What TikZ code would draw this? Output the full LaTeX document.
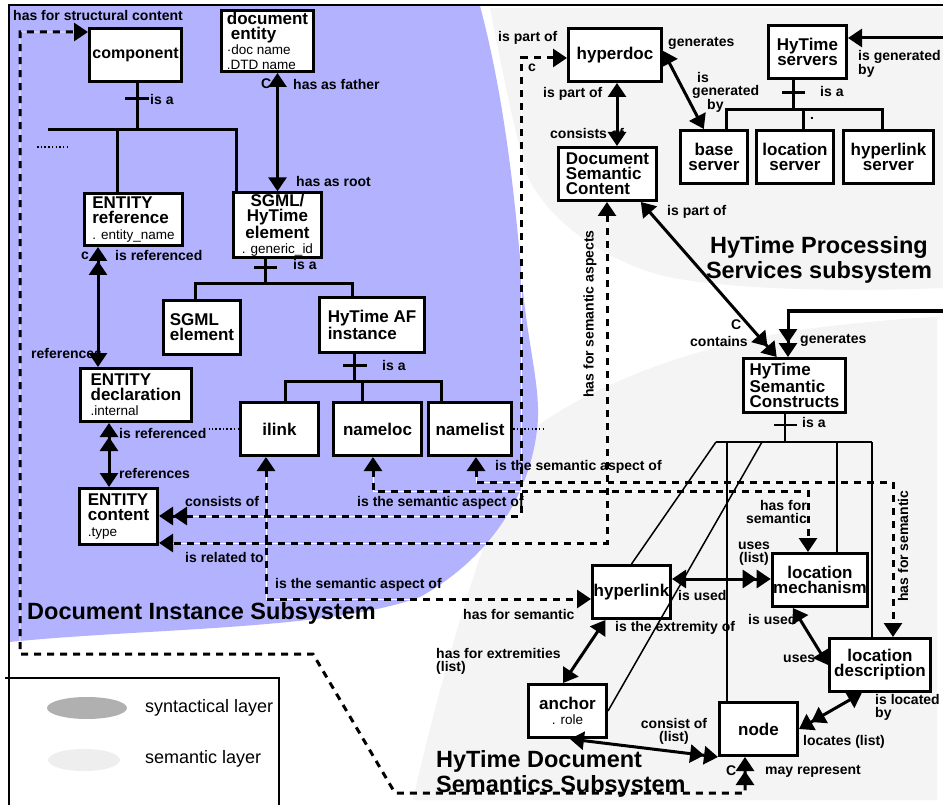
\documentclass[tikz,border=0pt]{standalone}
\usepackage{fontspec}
\setmainfont{Liberation Sans}
\usetikzlibrary{arrows.meta}

\definecolor{synblue}{RGB}{178,178,255}
\definecolor{semgray}{RGB}{244,244,244}
\definecolor{leggray}{RGB}{176,176,176}
\definecolor{legsem}{RGB}{238,238,238}

\newcommand{\bxf}{\fontsize{17}{15.2}\selectfont\bfseries}
\newcommand{\atf}{\fontsize{13.5}{14}\selectfont\mdseries}
\newcommand{\lbf}{\fontsize{14}{13}\selectfont\bfseries}
\newcommand{\bigf}{\fontsize{23.5}{25}\selectfont\bfseries}
\newcommand{\legf}{\fontsize{18}{18}\selectfont}

\begin{document}
\begin{tikzpicture}[x=1pt,y=-1pt,
  >={Triangle[length=14pt,width=18pt]},
  box/.style 2 args={draw,line width=3pt,fill=white,inner sep=1pt,font=\bxf,
    align=center,minimum width=#1pt,minimum height=#2pt},
  lbl/.style={font=\lbf,inner sep=0pt,anchor=west},
  conn/.style={line width=3pt},
  semline/.style={line width=3pt,dash pattern=on 7pt off 6pt,
    preaction={draw=white,line width=0.8pt,solid,-}},
  treeline/.style={line width=3pt},
  thintree/.style={line width=1.5pt},
  dotline/.style={line width=1.5pt,dash pattern=on 1.5pt off 2.2pt},
]
\useasboundingbox (0,0) rectangle (943,805);
\fill[white] (0,0) rectangle (943,805);

% layer regions
\fill[semgray] (490,8) -- (943,8) -- (943,288)
  .. controls (850,292) and (720,290) .. (660,275)
  .. controls (590,255) and (540,210) .. (525,170)
  .. controls (510,110) and (498,50) .. cycle;
\fill[semgray] (528,432) .. controls (600,380) and (700,345) .. (800,330)
  .. controls (860,322) and (910,318) .. (937,317)
  -- (937,800) -- (413,800) .. controls (440,680) and (480,540) .. cycle;
\fill[synblue] (9,6) -- (480,6) .. controls (505,100) and (515,200) .. (522,280)
  .. controls (528,350) and (542,390) .. (537,430)
  .. controls (530,490) and (495,555) .. (420,597)
  .. controls (330,630) and (150,628) .. (9,642) -- cycle;

% frame and legend
\draw[line width=1.5pt] (9,805) -- (9,5) -- (943,5);
\draw[line width=2pt] (5,678) -- (279,678) -- (279,805);
\fill[leggray] (87,708) ellipse [x radius=40, y radius=11];
\fill[legsem] (84,760) ellipse [x radius=36, y radius=11];
\node[font=\legf,anchor=west,inner sep=0] (legsyn) at (145,708) {syntactical layer};
\node[font=\legf,anchor=west,inner sep=0] (legsemt) at (145,759) {semantic layer};

% boxes
\node[box={92}{53}] (comp) at (135.5,55) {\fontsize{16}{14}\selectfont component};
\node[box={92}{61},align=left] (docent) at (267.5,41)
  {document\\\hspace*{4pt}entity\\{\atf \textperiodcentered doc name}\\{\atf .DTD name}};
\node[box={98}{52},align=left] (entref) at (133.5,219.5)
  {ENTITY\\reference\\{\atf . entity\_name}};
\node[box={88}{61}] (sgmlhy) at (277.5,225)
  {SGML/\\HyTime\\element\\{\atf . generic\_id}};
\node[box={77}{54},align=left] (sgmlel) at (202,327.5) {SGML\\element};
\node[box={105}{55},align=left] (hyaf) at (372,325) {HyTime AF\\instance};
\node[box={78}{53}] (ilink) at (279.5,429) {ilink};
\node[box={88}{53}] (nameloc) at (377.5,429) {nameloc};
\node[box={83}{53}] (namelist) at (470,429) {namelist};
\node[box={111}{53},align=left] (entdecl) at (136,395)
  {ENTITY\\declaration\\{\atf .internal}};
\node[box={78}{56},align=left] (entcont) at (118.5,516.5)
  {ENTITY\\content\\{\atf .type}};
\node[box={93}{53}] (hyperdoc) at (615,55) {hyperdoc};
\node[box={78}{53}] (hyserv) at (807.5,52) {HyTime\\servers};
\node[box={98}{53},align=left] (dsc) at (607.5,174) {Document\\Semantic\\Content};
\node[box={67}{53}] (base) at (714,157) {base\\server};
\node[box={77}{53}] (locserv) at (795,157) {location\\server};
\node[box={90}{53}] (hlserv) at (888.5,157) {hyperlink\\server};
\node[box={102}{54},align=left] (hsc) at (794.5,385.5) {HyTime\\Semantic\\Constructs};
\node[box={78}{53}] (hyperlink) at (631.5,592) {hyperlink};
\node[box={93}{53}] (locmech) at (820,580) {location\\mechanism};
\node[box={101}{53}] (locdesc) at (880,665) {location\\description};
\node[box={78}{53}] (anchor) at (567.5,711) {anchor\\{\atf . role}};
\node[box={78}{53}] (nd) at (758.5,729) {node};

% structural content path
\coordinate (sc1) at (20,32);
\coordinate (sc2) at (20,654);
\coordinate (sc3) at (313,654);
\coordinate (sc4) at (395,793);
\coordinate (sc5) at (745,793);
\draw[semline,<<->] (sc5 |- nd.south) -- (sc5) -- (sc4) -- (sc3) -- (sc2) -- (sc1) -- (sc1 -| comp.west);

% component specialisation
\coordinate (ct) at (137,130);
\coordinate (ctl) at (48,130);
\coordinate (ctr) at (236,130);
\coordinate (cta) at (117,130);
\draw[treeline] (comp.south -| ct) -- (ct);
\draw[treeline] (125,99) -- (149,99);
\draw[treeline] (ctl) -- (ctr) -- (ctr |- sgmlhy.north);
\draw[treeline] (cta) -- (cta |- entref.north);
\draw[dotline] (37,147) -- (68,147);

% document entity / root element
\draw[conn,<->] (docent.south -| sgmlhy.north) -- (sgmlhy.north);

% entity chain
\coordinate (x98) at (98,0);
\coordinate (x109) at (109,0);
\draw[conn,<<->] (entref.south -| x98) -- (entdecl.north -| x98);
\draw[conn,<<->] (entdecl.south -| x109) -- (entcont.north -| x109);
\draw[dotline] (ilink.west) -- ++(-30,0);
\draw[dotline] (namelist.east) -- ++(30,0);

% SGML/HyTime element specialisation
\coordinate (st) at (265,284);
\coordinate (stl) at (195,284);
\coordinate (str) at (352,284);
\draw[treeline] (st |- sgmlhy.south) -- (st);
\draw[treeline] (254,268) -- (277,268);
\draw[treeline] (stl |- sgmlel.north) -- (stl) -- (str) -- (str |- hyaf.north);

% HyTime AF instance specialisation
\coordinate (ht) at (354,381);
\coordinate (hta) at (285,381);
\coordinate (htb) at (362,381);
\coordinate (htc) at (441,381);
\draw[treeline] (ht |- hyaf.south) -- (ht);
\draw[treeline] (343,365) -- (367,365);
\draw[treeline] (hta |- ilink.north) -- (hta) -- (htc) -- (htc |- namelist.north);
\draw[treeline] (htb) -- (htb |- nameloc.north);

% semantic aspects
\coordinate (il1) at (266,599);
\draw[semline,<->] (il1 |- ilink.south) -- (il1) -- (il1 -| hyperlink.west);
\coordinate (nl1) at (373,491);
\coordinate (nl2) at (808,491);
\draw[semline,<->] (nl1 |- nameloc.south) -- (nl1) -- (nl2) -- (nl2 |- locmech.north);
\coordinate (ns1) at (476,482);
\coordinate (ns2) at (893,482);
\draw[semline,<->] (ns1 |- namelist.south) -- (ns1) -- (ns2) -- (ns2 |- locdesc.north);
\coordinate (hp1) at (521,58);
\coordinate (hp2) at (521,516);
\draw[semline,<->>] (hp1 -| hyperdoc.west) -- (hp1) -- (hp2) -- (hp2 -| entcont.east);
\coordinate (ds1) at (607,543);
\draw[semline,<->] (ds1 |- dsc.south) -- (ds1) -- (ds1 -| entcont.east);

% processing services
\coordinate (x617) at (617,0);
\draw[conn,<->] (hyperdoc.south -| x617) -- (dsc.north -| x617);
\draw[conn,<->] (hyperdoc.5) -- (base.110);
\coordinate (sv) at (793,110);
\coordinate (sva) at (726,110);
\coordinate (svb) at (803,110);
\coordinate (svc) at (882,110);
\draw[treeline] (sv |- hyserv.south) -- (sv);
\draw[treeline] (782,93) -- (805,93);
\draw[treeline] (sva |- base.north) -- (sva) -- (svc) -- (svc |- hlserv.north);
\draw[treeline] (svb) -- (svb |- locserv.north);
\coordinate (g1) at (946,38);
\coordinate (g2) at (946,311);
\coordinate (g3) at (788,311);
\draw[conn,<-] (g1 -| hyserv.east) -- (g1);
\draw[conn,->>] (g2) -- (g3) -- (g3 |- hsc.north);
\draw[conn,<->>] (dsc.-40) -- (hsc.122);

% semantic constructs specialisation
\coordinate (hc) at (785,442);
\coordinate (hca) at (716,442);
\coordinate (hcb) at (762,442);
\coordinate (hcc) at (727,442);
\coordinate (hcd) at (837,442);
\coordinate (hce) at (872,442);
\draw[thintree] (hc |- hsc.south) -- (hc);
\draw[thintree] (774,425) -- (797,425);
\draw[thintree] (hca) -- (hce);
\draw[thintree] (hca) -- (hyperlink.north);
\draw[thintree] (hcb) -- (anchor.east);
\draw[thintree] (hcc) -- (hcc |- nd.north);
\draw[thintree] (hcd) -- (hcd |- locmech.north);
\draw[thintree] (hce) -- (hce |- locdesc.north);

% document semantics relations
\coordinate (y579) at (0,579);
\draw[conn,<->>] (hyperlink.east |- y579) -- (locmech.west |- y579);
\draw[conn,<->] (hyperlink.-133) -- (anchor.99);
\draw[conn,<->] (locmech.-134) -- (locdesc.west);
\draw[conn,<->>] (locdesc.-123) -- (nd.east);
\draw[conn,<->>] (anchor.-85) -- (nd.south west);

% labels
\node[lbl] (l1) at (13,15) {has for structural content};
\node[lbl] (l2) at (150,99) {is a};
\node[lbl] (l3) at (261,84) {C};
\node[lbl] (l4) at (293,84) {has as father};
\node[lbl] (l5) at (296,181) {has as root};
\node[lbl] (l6) at (81,256) {c};
\node[lbl] (l7) at (115,255) {is referenced};
\node[lbl] (l8) at (31,353) {references};
\node[lbl] (l9) at (293,264) {is a};
\node[lbl] (l10) at (382,365) {is a};
\node[lbl] (l11) at (119,433) {is referenced};
\node[lbl] (l12) at (119,473) {references};
\node[lbl] (l13) at (185,501) {consists of};
\node[lbl] (l14) at (185,557) {is related to};
\node[lbl] (l15) at (275,585) {is the semantic aspect of};
\node[lbl] (l16) at (463,614) {has for semantic};
\node[lbl] (l17) at (357,503) {is the semantic aspect of};
\node[lbl] (l18) at (495,467) {is the semantic aspect of};
\node[lbl] (l19) at (498,38) {is part of};
\node[lbl] (l20) at (528,68) {c};
\node[lbl] (l21) at (543,94) {is part of};
\node[lbl] (l22) at (550,133) {consists of};
\node[lbl] (l23) at (668,43) {generates};
\node[lbl,align=left,anchor=north west] (l24) at (692,72)
  {\hspace*{5pt}is\\generated\\\hspace*{15pt}by};
\node[lbl] (l25) at (820,91) {is a};
\node[lbl] (l26) at (810,118) {.};
\node[lbl,align=left,anchor=north west] (l27) at (858,50) {is generated\\by};
\node[lbl] (l28) at (667,212) {is part of};
\node[lbl] (l29) at (731,325) {C};
\node[lbl] (l30) at (690,341) {contains};
\node[lbl] (l31) at (800,340) {generates};
\node[lbl,anchor=center,rotate=90] (l32) at (590,314) {has for semantic aspects};
\node[lbl] (l33) at (802,422) {is a};
\node[lbl,align=right,anchor=east] (l34) at (807,512) {has for\\semantic};
\node[lbl,anchor=center,rotate=90] (l35) at (903,546) {has for semantic};
\node[lbl,align=center,anchor=center] (l36) at (754,554) {uses\\(list)};
\node[lbl] (l37) at (678,595) {is used};
\node[lbl] (l38) at (615,628) {is the extremity of};
\node[lbl,align=left,anchor=north west] (l39) at (436,648) {has for extremities\\(list)};
\node[lbl] (l40) at (748,619) {is used};
\node[lbl] (l41) at (783,659) {uses};
\node[lbl,align=left,anchor=north west] (l42) at (875,694) {is located\\by};
\node[lbl] (l43) at (803,742) {locates (list)};
\node[lbl,align=center,anchor=center] (l44) at (674,731) {consist of\\(list)};
\node[lbl] (l45) at (726,771) {C};
\node[lbl] (l46) at (765,771) {may represent};

% subsystem titles
\node[font=\bigf,anchor=west,inner sep=0] (tdis) at (27,613) {Document Instance Subsystem};
\node[font=\bigf,align=center,inner sep=0] (thps) at (819,260) {HyTime Processing\\Services subsystem};
\node[font=\bigf,align=left,anchor=west,inner sep=0] (thds) at (436,774)
  {\fontsize{23.5}{22}\selectfont HyTime Document\\Semantics Subsystem};
\end{tikzpicture}
\end{document}
